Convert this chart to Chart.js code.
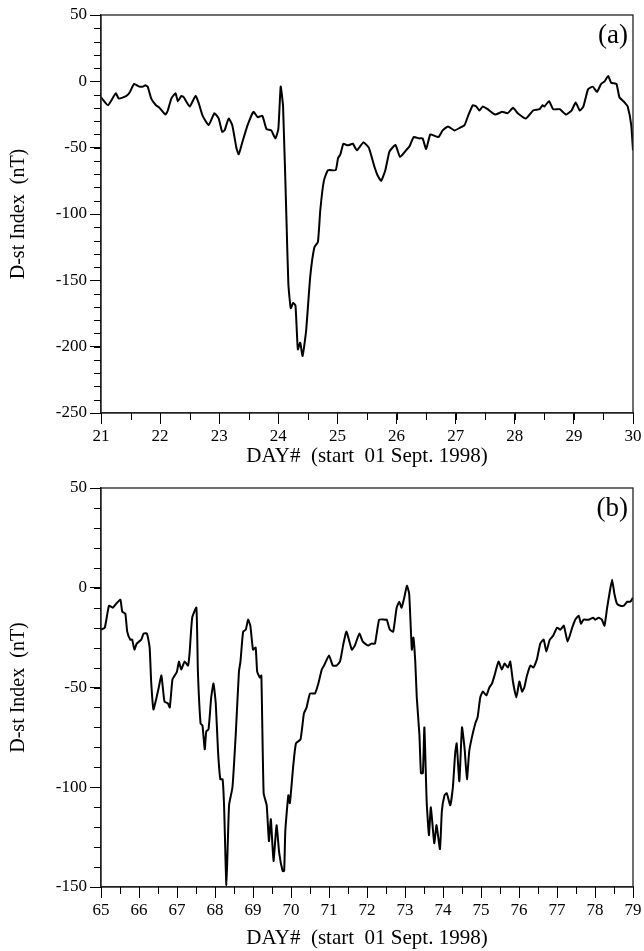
<!DOCTYPE html>
<html>
<head>
<meta charset="utf-8">
<script src="https://cdn.jsdelivr.net/npm/chart.js@4/dist/chart.umd.min.js"></script>
<style>
  html, body { margin: 0; padding: 0; background: #fff; }
  body { width: 644px; height: 951px; position: relative; overflow: hidden; }
  #wa { position: absolute; left: 0; top: 0; width: 644px; height: 473px; }
  #wb { position: absolute; left: 0; top: 473px; width: 644px; height: 478px; }
</style>
</head>
<body>
<div id="wa"><canvas id="ca" width="644" height="473"></canvas></div>
<div id="wb"><canvas id="cb" width="644" height="478"></canvas></div>
<script>
// ---- Panel (a): 21-30 Sept 1998 ----
const dayA = [21.00,21.12,21.25,21.30,21.43,21.49,21.56,21.65,21.71,21.75,
  21.79,21.85,21.93,21.99,22.09,22.13,22.19,22.26,22.30,22.36,
  22.40,22.50,22.60,22.65,22.72,22.82,22.92,22.99,23.05,23.09,
  23.16,23.22,23.29,23.33,23.39,23.48,23.58,23.65,23.73,23.80,
  23.88,23.95,24.00,24.04,24.08,24.14,24.17,24.21,24.25,24.29,
  24.33,24.37,24.41,24.47,24.54,24.61,24.67,24.71,24.77,24.84,
  24.97,25.01,25.05,25.10,25.15,25.20,25.26,25.33,25.44,25.53,
  25.63,25.68,25.74,25.81,25.88,25.98,26.06,26.16,26.22,26.29,
  26.38,26.44,26.50,26.57,26.64,26.71,26.78,26.87,26.98,27.07,
  27.15,27.21,27.29,27.35,27.40,27.46,27.54,27.67,27.79,27.88,
  27.97,28.05,28.19,28.31,28.42,28.47,28.50,28.58,28.65,28.76,
  28.87,28.96,29.03,29.10,29.16,29.24,29.32,29.39,29.46,29.52,
  29.58,29.63,29.72,29.77,29.86,29.91,29.97,30.00];
const dstA = [-12,-18,-9,-13,-11,-8,-2,-4,-4,-3,
  -4,-13,-18,-20,-25,-22,-13,-9,-15,-11,
  -12,-19,-11,-16,-26,-33,-24,-28,-38,-37,
  -28,-33,-50,-55,-46,-33,-23,-27,-26,-36,
  -37,-43,-36,-4,-19,-108,-153,-171,-167,-169,
  -202,-197,-207,-188,-147,-125,-121,-97,-75,-67,
  -67,-58,-55,-47,-48,-48,-47,-52,-46,-50,
  -65,-71,-75,-67,-53,-48,-57,-52,-49,-42,
  -43,-43,-51,-40,-41,-42,-37,-34,-37,-35,
  -33,-26,-18,-19,-22,-19,-21,-25,-23,-24,
  -20,-24,-28,-22,-21,-18,-19,-15,-21,-21,
  -25,-22,-16,-22,-19,-6,-4,-8,-2,0,
  4,-1,-2,-12,-16,-19,-33,-52];

// ---- Panel (b): 65-79 ----
const dayB = [65.00,65.10,65.21,65.31,65.40,65.51,65.56,65.64,65.69,65.77,
  65.82,65.88,65.94,66.06,66.12,66.21,66.28,66.32,66.38,66.45,
  66.52,66.59,66.67,66.76,66.81,66.88,66.94,67.00,67.05,67.11,
  67.20,67.29,67.33,67.40,67.51,67.55,67.62,67.67,67.73,67.77,
  67.83,67.90,67.96,68.02,68.08,68.14,68.20,68.24,68.30,68.37,
  68.46,68.55,68.63,68.67,68.74,68.81,68.87,68.93,69.00,69.07,
  69.11,69.18,69.22,69.28,69.36,69.42,69.47,69.54,69.62,69.69,
  69.78,69.82,69.85,69.93,69.97,70.06,70.13,70.25,70.34,70.41,
  70.50,70.63,70.72,70.81,70.87,71.00,71.10,71.20,71.29,71.38,
  71.46,71.60,71.68,71.80,71.89,72.03,72.12,72.21,72.32,72.47,
  72.52,72.60,72.69,72.78,72.85,72.91,72.98,73.05,73.11,73.18,
  73.22,73.27,73.31,73.38,73.42,73.47,73.51,73.57,73.63,73.68,
  73.77,73.83,73.92,73.97,74.04,74.10,74.19,74.26,74.32,74.36,
  74.43,74.50,74.57,74.63,74.69,74.76,74.85,74.91,74.98,75.05,
  75.14,75.22,75.29,75.37,75.46,75.55,75.62,75.71,75.77,75.84,
  75.93,76.01,76.08,76.14,76.21,76.30,76.38,76.47,76.56,76.65,
  76.72,76.81,76.90,77.00,77.09,77.18,77.28,77.40,77.48,77.57,
  77.63,77.70,77.83,77.95,78.01,78.10,78.18,78.25,78.32,78.38,
  78.45,78.51,78.58,78.67,78.76,78.85,78.93,79.00];
const dstB = [-21,-20,-9,-10,-8,-6,-12,-13,-22,-26,
  -26,-31,-28,-26,-23,-23,-30,-47,-61,-56,
  -50,-44,-57,-58,-60,-46,-44,-42,-37,-41,
  -37,-39,-33,-15,-10,-42,-68,-69,-81,-72,
  -71,-55,-48,-58,-82,-96,-96,-110,-149,-109,
  -100,-72,-42,-37,-22,-21,-16,-19,-31,-30,
  -42,-45,-44,-103,-109,-127,-116,-137,-119,-133,
  -142,-142,-122,-104,-108,-89,-78,-76,-63,-60,
  -53,-53,-48,-41,-39,-34,-39,-39,-37,-28,
  -22,-31,-29,-23,-27,-29,-28,-28,-16,-16,
  -16,-21,-22,-10,-7,-10,-5,1,-3,-31,
  -25,-37,-55,-74,-93,-93,-70,-107,-124,-110,
  -128,-119,-131,-112,-104,-103,-109,-100,-83,-78,
  -97,-70,-81,-96,-82,-75,-68,-65,-55,-52,
  -54,-50,-48,-43,-37,-41,-38,-40,-37,-47,
  -55,-47,-52,-50,-44,-39,-40,-36,-28,-26,
  -32,-26,-24,-20,-21,-19,-27,-20,-16,-14,
  -18,-16,-16,-15,-16,-15,-16,-19,-10,-3,
  4,-3,-8,-9,-9,-7,-7,-5];

const xTitle = 'DAY#  (start  01 Sept. 1998)';
const yTitle = 'D-st Index  (nT)';
const SERIF = '"Liberation Serif", "Times New Roman", serif';

const framePlugin = {
  id: 'frameMinor',
  afterDraw(chart, args, opts) {
    const { ctx, chartArea: a, scales } = chart;
    const x = scales.x, y = scales.y;
    ctx.save();
    ctx.strokeStyle = '#222';
    ctx.lineWidth = 1.3;
    ctx.strokeRect(a.left, a.top, a.right - a.left, a.bottom - a.top);
    ctx.beginPath();
    ctx.lineWidth = 1;
    ctx.strokeStyle = '#000';
    for (let v = y.min; v <= y.max + 1e-9; v += opts.yMinor) {
      const py = Math.round(y.getPixelForValue(v)) + 0.5;
      ctx.moveTo(a.left - 7, py); ctx.lineTo(a.left, py);
    }
    for (let v = x.min; v <= x.max + 1e-9; v += opts.xMinor) {
      const px = Math.round(x.getPixelForValue(v)) + 0.5;
      ctx.moveTo(px, a.bottom); ctx.lineTo(px, a.bottom + 7);
    }
    ctx.stroke();
    ctx.fillStyle = '#000';
    ctx.font = '27px ' + SERIF;
    ctx.textAlign = 'right';
    ctx.textBaseline = 'top';
    ctx.fillText(opts.label, a.right - 5, a.top + 7);
    ctx.restore();
  }
};

function makeChart(id, days, vals, xmin, xmax, ymin, ymax, label, xH, titlePad) {
  const pts = days.map((d, i) => ({ x: d, y: vals[i] }));
  return new Chart(document.getElementById(id), {
    type: 'scatter',
    data: { datasets: [{
      data: pts, showLine: true, borderColor: '#000', borderWidth: 2,
      pointRadius: 0, tension: 0.15, fill: false
    }] },
    plugins: [framePlugin],
    options: {
      responsive: false, animation: false,
      layout: { padding: { top: 15, right: 11, left: 0, bottom: 0 } },
      plugins: { legend: { display: false }, tooltip: { enabled: false },
        frameMinor: { label: label, yMinor: 10, xMinor: 0.5 } },
      scales: {
        x: {
          type: 'linear', min: xmin, max: xmax,
          afterFit(s) { s.height = xH; },
          ticks: { stepSize: 1, autoSkip: false, maxRotation: 0, color: '#000',
            padding: 2, font: { family: SERIF, size: 17 } },
          grid: { drawOnChartArea: false, drawTicks: true, tickLength: 11, tickColor: '#000', tickWidth: 1 },
          border: { display: true, color: '#222', width: 1.3 },
          title: { display: true, text: xTitle, color: '#000', padding: { top: 0, bottom: titlePad },
            font: { family: SERIF, size: 21 } }
        },
        y: {
          type: 'linear', min: ymin, max: ymax,
          afterFit(s) { s.width = 101; },
          ticks: { stepSize: 50, color: '#000', padding: 3, font: { family: SERIF, size: 17 } },
          grid: { drawOnChartArea: false, drawTicks: true, tickLength: 11, tickColor: '#000', tickWidth: 1 },
          border: { display: true, color: '#222', width: 1.3 },
          title: { display: true, text: yTitle, color: '#000', padding: { top: 7, bottom: 0 },
            font: { family: SERIF, size: 20 } }
        }
      }
    }
  });
}

makeChart('ca', dayA, dstA, 21, 30, -250, 50, '(a)', 60, 4);
makeChart('cb', dayB, dstB, 65, 79, -150, 50, '(b)', 64, 0);
</script>
</body>
</html>
